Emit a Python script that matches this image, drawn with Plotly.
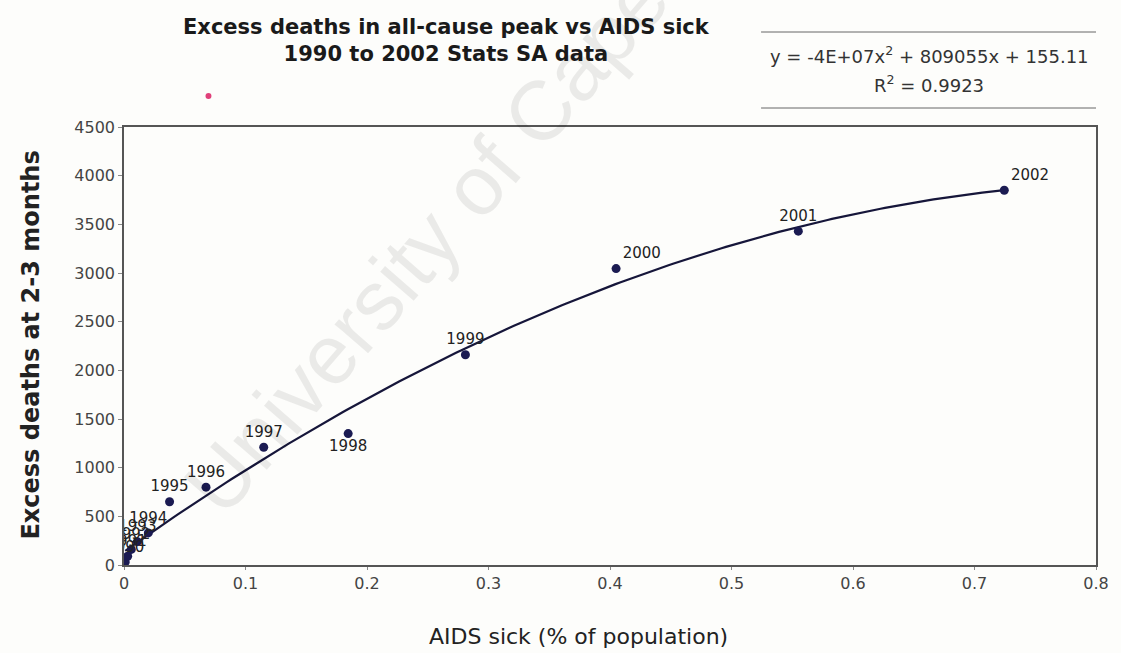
import numpy as np
import plotly.graph_objects as go

# ---- data ----
years = ["1990", "1991", "1992", "1993", "1994", "1995", "1996",
         "1997", "1998", "1999", "2000", "2001", "2002"]
aids_sick_pct = [0.001, 0.003, 0.006, 0.011, 0.020, 0.0375, 0.0675,
                 0.115, 0.1845, 0.281, 0.405, 0.555, 0.7245]
excess_deaths = [30, 90, 160, 240, 330, 650, 800,
                 1210, 1350, 2160, 3045, 3430, 3850]
label_positions = ["top center", "top center", "top center", "top center", "top center",
                   "top center", "top center", "top center", "bottom center",
                   "top center", "top right", "top center", "top right"]

x_ticks = [0, 0.1, 0.2, 0.3, 0.4, 0.5, 0.6, 0.7, 0.8]
x_tick_labels = ["0", "0.1", "0.2", "0.3", "0.4", "0.5", "0.6", "0.7", "0.8"]
y_ticks = list(range(0, 4501, 500))

title_text = "Excess deaths in all-cause peak vs AIDS sick<br>1990 to 2002 Stats SA data"
equation_text = "y = -4E+07x<sup>2</sup> + 809055x + 155.11"
r2_text = "R<sup>2</sup> = 0.9923"

# ---- polynomial trendline (order 2) fitted from the data ----
coef = np.polyfit(aids_sick_pct, excess_deaths, 2)
xs = np.linspace(min(aids_sick_pct), max(aids_sick_pct), 200)
ys = np.polyval(coef, xs)

FONT = "DejaVu Sans"
INK = "#1b1b52"

fig = go.Figure()
fig.add_trace(go.Scatter(x=xs, y=ys, mode="lines",
                         line=dict(color="#16163a", width=2.2),
                         hoverinfo="skip", showlegend=False))
fig.add_trace(go.Scatter(x=aids_sick_pct, y=excess_deaths, mode="markers+text",
                         text=years, textposition=label_positions,
                         textfont=dict(family=FONT, size=15, color="#222222"),
                         marker=dict(color=INK, size=9),
                         showlegend=False))

# plot area: x 124..1102 px, y 127..565 px
fig.update_layout(
    width=1121, height=653,
    margin=dict(l=124, r=19, t=127, b=88),
    paper_bgcolor="#fdfdfb", plot_bgcolor="#fdfdfb",
    font=dict(family=FONT, color="#333333"),
    xaxis=dict(range=[0, 0.8], tickvals=x_ticks, ticktext=x_tick_labels,
               showgrid=False, zeroline=False, showline=True, linecolor="#555555",
               linewidth=1.5, mirror=True, ticks="outside", ticklen=3,
               tickcolor="#888888", tickfont=dict(family=FONT, size=16, color="#444444")),
    yaxis=dict(range=[0, 4500], tickvals=y_ticks,
               showgrid=False, zeroline=False, showline=True, linecolor="#555555",
               linewidth=1.5, mirror=True, ticks="outside", ticklen=4,
               tickcolor="#888888", tickfont=dict(family=FONT, size=16, color="#444444")),
)

def px_to_paper(px, py):
    return (px - 124) / 978.0, (565 - py) / 438.0

annotations = []
# watermark
wx, wy = px_to_paper(500, 160)
annotations.append(dict(text="University of Cape Town", x=wx, y=wy, xref="paper", yref="paper",
                        xanchor="center", yanchor="middle",
                        showarrow=False, textangle=-49,
                        font=dict(family="Liberation Sans", size=84, color="rgba(0,0,0,0.075)")))
# title
tx, ty = px_to_paper(448, 41)
annotations.append(dict(text=title_text, x=tx, y=ty, xref="paper", yref="paper",
                        xanchor="center", yanchor="middle",
                        showarrow=False, align="center",
                        font=dict(family=FONT, size=21, color="#1a1a1a", weight="bold")))
# equation + R2
ex, ey = px_to_paper(934, 55)
annotations.append(dict(text=equation_text, x=ex, y=ey, xref="paper", yref="paper",
                        xanchor="center", yanchor="middle",
                        showarrow=False, font=dict(family=FONT, size=18, color="#333333")))
rx, ry = px_to_paper(934, 84)
annotations.append(dict(text=r2_text, x=rx, y=ry, xref="paper", yref="paper",
                        xanchor="center", yanchor="middle",
                        showarrow=False, font=dict(family=FONT, size=18, color="#333333")))
# axis titles
ax_x, ax_y = px_to_paper(581, 636)
annotations.append(dict(text="AIDS sick (% of population)", x=ax_x, y=ax_y, xref="paper", yref="paper",
                        xanchor="center", yanchor="middle",
                        showarrow=False, font=dict(family=FONT, size=22, color="#222222")))
ay_x, ay_y = px_to_paper(30, 345)
annotations.append(dict(text="Excess deaths at 2-3 months", x=ay_x, y=ay_y, xref="paper", yref="paper",
                        xanchor="center", yanchor="middle",
                        showarrow=False, textangle=-90,
                        font=dict(family=FONT, size=24, color="#222222", weight="bold")))
fig.update_layout(annotations=annotations)

# lines around the equation box
l1x0, l1y = px_to_paper(765, 32)
l1x1, _ = px_to_paper(1102, 32)
_, l2y = px_to_paper(765, 108)
for yy in (l1y, l2y):
    fig.add_shape(type="line", xref="paper", yref="paper", x0=l1x0, x1=l1x1, y0=yy, y1=yy,
                  line=dict(color="#666666", width=1))
# small pink scan mark
px0, py0 = px_to_paper(206, 93)
px1, py1 = px_to_paper(212, 99)
fig.add_shape(type="circle", xref="paper", yref="paper", x0=px0, x1=px1, y0=py1, y1=py0,
              fillcolor="#e0407a", line=dict(width=0))

fig.write_html("out.html", config={"displayModeBar": False},
               post_script="document.body.style.margin='0';document.body.style.background='#fdfdfb';")
